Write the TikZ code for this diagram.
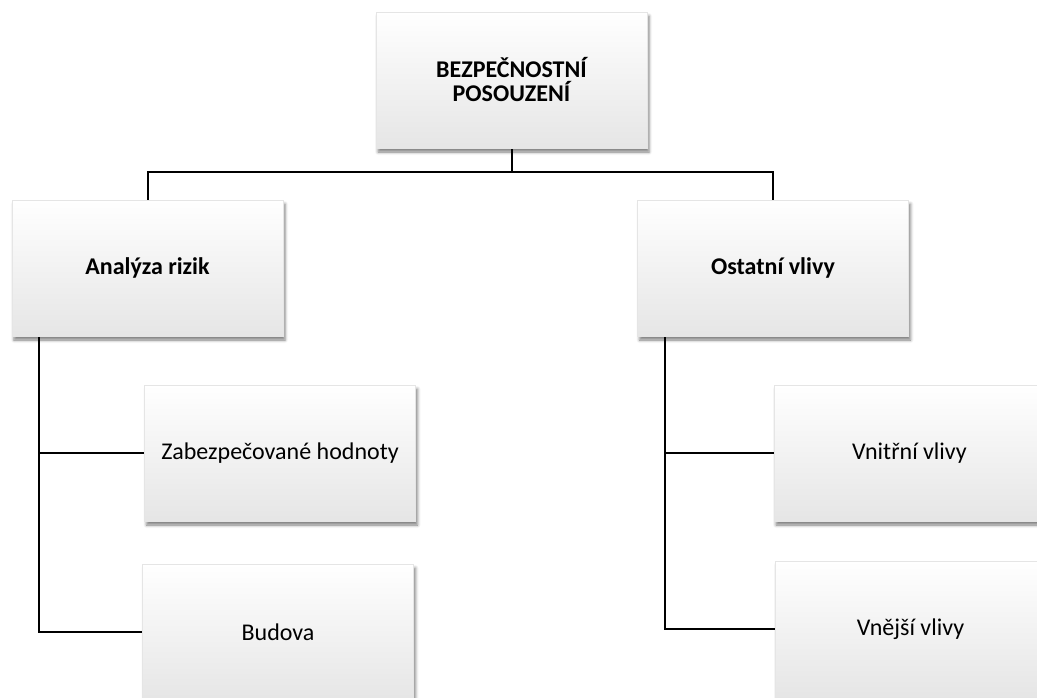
\documentclass[tikz,border=0pt]{standalone}
\usepackage{fontspec}
\setmainfont{Carlito}
\usetikzlibrary{shadows.blur,backgrounds}
\begin{document}
\begin{tikzpicture}[x=1pt,y=-1pt,
  box/.style={minimum width=271pt, minimum height=136pt, inner sep=0pt,
    top color=white, middle color=white, bottom color=black!10,
    draw=black!10, line width=0.4pt,
    blur shadow={shadow xshift=2pt, shadow yshift=-4pt, shadow blur radius=3pt, shadow opacity=50},
    align=center, font=\fontsize{24}{24}\selectfont},
  hbox/.style={box, font=\bfseries\fontsize{24}{24}\selectfont},
  conn/.style={draw=black, line width=2pt}]
\useasboundingbox (0,0) rectangle (1037,697);
\clip (0,0) rectangle (1037,697);
\node[hbox] (top) at (511.5,80) {BEZPEČNOSTNÍ\\POSOUZENÍ};
\node[hbox] (ana) at (147.5,268) {Analýza rizik};
\node[hbox] (ost) at (773,268) {Ostatní vlivy};
\node[box] (zab) at (280,453) {Zabezpečované hodnoty};
\node[box] (bud) at (278,632) {Budova};
\node[box] (vni) at (909.5,453) {Vnitřní vlivy};
\node[box] (vne) at (910.5,629) {Vnější vlivy};
\coordinate (hub) at (511.5,172);
\coordinate (lx) at (39,0);
\coordinate (rx) at (665,0);
\begin{scope}[on background layer]
\draw[conn] (top.south) -- (hub);
\draw[conn] (ana.north) |- (hub) -| (ost.north);
\draw[conn] (ana.south -| lx) |- (zab.west);
\draw[conn] (ana.south -| lx) |- (bud.west);
\draw[conn] (ost.south -| rx) |- (vni.west);
\draw[conn] (ost.south -| rx) |- (vne.west);
\end{scope}
\end{tikzpicture}
\end{document}
